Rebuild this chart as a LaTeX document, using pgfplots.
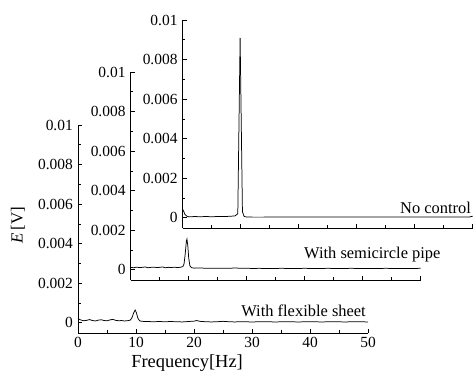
\documentclass[border=0pt]{standalone}
\usepackage{fontspec}
\setmainfont{Liberation Serif}
\usepackage{pgfplots}
\pgfplotsset{compat=1.18}
\newcommand\tl[1]{\mbox{\fontsize{15.5}{18}\selectfont #1}}
\pgfplotsset{
  wf/.style={
    scale only axis, width=290bp, height=208bp,
    xmin=0, xmax=50, ymin=-0.00052, ymax=0.01,
    axis x line*=bottom, axis y line*=left,
    axis line style={-, line width=0.8pt},
    xtick={0,10,20,30,40,50}, minor x tick num=1,
    xticklabels={\tl{0},\tl{10},\tl{20},\tl{30},\tl{40},\tl{50}},
    ytick={0,0.002,0.004,0.006,0.008,0.01},
    yticklabels={\tl{0},\tl{0.002},\tl{0.004},\tl{0.006},\tl{0.008},\tl{0.01}},
    minor y tick num=1,
    scaled y ticks=false,
    tick align=inside,
    major tick length=4bp, minor tick length=2.5bp,
    every tick/.style={black, line width=0.6pt},
    yticklabel style={inner xsep=5bp},
    xticklabel style={inner ysep=4bp},
    label style={font=\fontsize{17}{20}\selectfont},
    clip=false,
  },
  curve/.style={black, line width=0.75pt, mark=none},
}
\begin{document}
\begin{tikzpicture}
\useasboundingbox (0,0) rectangle (474bp,372bp);
% back axis: No control
\begin{axis}[wf, at={(182.7bp,144bp)}, anchor=south west, xticklabels={}]
\addplot[curve] coordinates {
(0,0.00042) (0.2,0.00030) (0.4,0.00016) (0.7,0.00008) (1,0.00005) (1.5,0.00005)
(2,0.00006) (3,0.00005) (4,0.00006) (5,0.00005) (6,0.00006) (7,0.00006)
(8,0.00007) (9,0.00009) (9.5,0.0002) (9.9,0.0091) (10.3,0.0003) (10.6,0.00006)
(11,0.00004) (12,0.00003) (14,0.00003) (16,0.00004) (18,0.00003) (20,0.00004)
(22,0.00003) (24,0.00004) (26,0.00003) (28,0.00004) (30,0.00003) (32,0.00004)
(34,0.00003) (36,0.00004) (38,0.00003) (40,0.00004) (42,0.00003) (44,0.00004)
(46,0.00003) (48,0.00004) (49.5,0.00004) (50,0.00008)
};
\node[anchor=base east, font=\fontsize{16.5}{19}\selectfont, inner sep=0pt] at ([xshift=-1.5bp,yshift=4bp]axis cs:50,0) {No control};
\end{axis}
% middle axis: semicircle pipe
\begin{axis}[wf, at={(130.7bp,92bp)}, anchor=south west, xticklabels={}]
\addplot[curve] coordinates {
(0,0.00012) (0.5,0.0001) (1,0.00013) (1.5,0.00011) (2,0.00012) (2.5,0.00014)
(3,0.0001) (3.5,0.00012) (4,0.00013) (4.5,0.00011) (5,0.00012) (5.5,0.00014)
(6,0.0001) (6.5,0.00012) (7,0.00011) (7.5,0.00013) (8,0.00011) (8.5,0.00012)
(9,0.00016) (9.2,0.0003) (9.4,0.0008) (9.6,0.00145) (9.7,0.00155) (9.85,0.0012)
(10,0.0006) (10.2,0.0002) (10.5,0.0001) (11,0.00008) (12,0.00009) (13,0.00007)
(14,0.00008) (15,0.00007) (16,0.00008) (17,0.00007) (18,0.00009) (19,0.00007)
(20,0.00008) (21,0.00006) (22,0.00007) (24,0.00006) (26,0.00007) (28,0.00006)
(30,0.00007) (32,0.00006) (34,0.00007) (36,0.00006) (38,0.00007) (40,0.00006)
(42,0.00006) (44,0.00007) (46,0.00006) (48,0.00006) (50,0.00007)
};
\node[anchor=base east, font=\fontsize{16.5}{19}\selectfont, inner sep=0pt] at ([xshift=20bp,yshift=11bp]axis cs:50,0) {With semicircle pipe};
\end{axis}
% front axis: flexible sheet
\begin{axis}[wf, at={(78bp,39bp)}, anchor=south west,
  xlabel={Frequency[Hz]},
  xlabel style={at={(axis description cs:0.376,0)}, anchor=center, yshift=-30bp, font=\fontsize{18.5}{20}\selectfont},
  ylabel={\textit{E}\,[V]},
  ylabel style={at={(axis description cs:-0.207,0.52)}, anchor=center}]
\addplot[curve] coordinates {
(0,0.00022) (0.3,0.00016) (0.7,0.00012) (1,0.0001) (1.5,0.00012) (2,0.00016)
(2.5,0.00011) (3,0.00009) (3.5,0.00013) (4,0.00015) (4.5,0.00011) (5,0.0001)
(5.5,0.00014) (6,0.00017) (6.5,0.00012) (7,0.0001) (7.5,0.00011) (8,0.00009)
(8.5,0.0001) (9,0.00013) (9.3,0.00025) (9.6,0.0005) (9.85,0.00064) (10.05,0.00052)
(10.3,0.00025) (10.6,0.0001) (11,0.00007) (12,0.00006) (13,0.00005) (14,0.00006)
(15,0.00005) (16,0.00006) (17,0.00005) (18,0.00004) (19,0.00006) (20,0.00008)
(20.5,0.00011) (21,0.00007) (22,0.00005) (23,0.00004) (24,0.00005) (25,0.00007)
(26,0.00005) (27,0.00004) (28,0.00005) (30,0.00004) (32,0.00005) (34,0.00004)
(36,0.00005) (38,0.00004) (40,0.00005) (42,0.00004) (44,0.00005) (46,0.00004)
(48,0.00005) (50,0.00004)
};
\node[anchor=base east, font=\fontsize{16.5}{19}\selectfont, inner sep=0pt] at ([xshift=-2bp,yshift=6bp]axis cs:50,0) {With flexible sheet};
\end{axis}
\end{tikzpicture}
\end{document}
